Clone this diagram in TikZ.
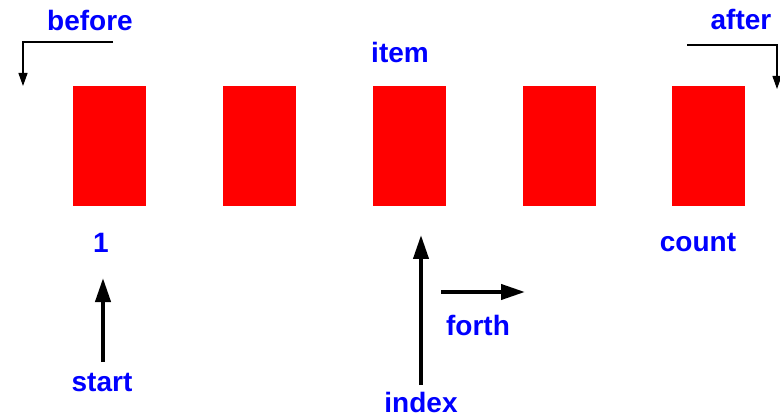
\documentclass[tikz,border=0pt]{standalone}
\usepackage{fontspec}
\setmainfont{Liberation Sans}
\usetikzlibrary{arrows.meta, positioning}
\tikzset{
  cell/.style={rectangle, fill=red, minimum width=73pt, minimum height=120pt, inner sep=0pt},
  lbl/.style={text=blue, font=\fontsize{28}{32}\selectfont\bfseries, inner sep=0pt},
  thinarrow/.style={line width=1.2pt, -{Triangle[length=13pt, width=9pt]}},
  thickarrow/.style={line width=4pt, -{Triangle[length=24pt, width=15pt]}}
}
\begin{document}
\begin{tikzpicture}[x=1pt, y=-1pt]
    \useasboundingbox (0,0) rectangle (780,417);
    % the five cells
    \node (cell1) [cell] at (109.5,146) {};
    \node (cell2) [cell] at (259.5,146) {};
    \node (cell3) [cell] at (409.5,146) {};
    \node (cell4) [cell] at (559.5,146) {};
    \node (cell5) [cell] at (708.5,146) {};

    \node (before) [lbl] at (90,20) {before};
    \node (after) [lbl] at (741,19) {after};
    \node (item) [lbl] at (400,52) {item};
    \node (one) [lbl] at (101,243) {1};
    \node (count) [lbl] at (698,243) {count};
    \node (start) [lbl] at (102,383) {start};
    \node (index) [lbl] at (421,402) {index};
    \node (forth) [lbl] at (478,325) {forth};

    \coordinate (bfrom) at (113,42);
    \coordinate (bto) at (23,86);
    \coordinate (afrom) at (687,45);
    \coordinate (ato) at (777,89);
    \coordinate (sfrom) at (103,362);
    \coordinate (sto) at (103,278);
    \coordinate (ifrom) at (421,385);
    \coordinate (ito) at (421,235);
    \coordinate (ffrom) at (441,292);
    \coordinate (fto) at (525,292);

    \draw [thinarrow] (bfrom) -| (bto);
    \draw [thinarrow] (afrom) -| (ato);
    \draw [thickarrow] (sfrom) -- (sto);
    \draw [thickarrow] (ifrom) -- (ito);
    \draw [thickarrow] (ffrom) -- (fto);
\end{tikzpicture}
\end{document}
